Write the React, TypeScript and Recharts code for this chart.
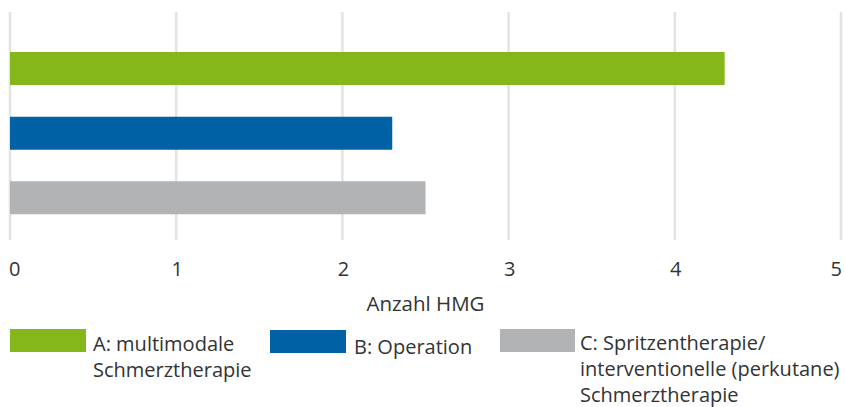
import React from "react";
import { BarChart, Bar, XAxis, YAxis, CartesianGrid, Cell } from "recharts";

const categories = ["A", "B", "C"];
const values = [4.3, 2.3, 2.5];
const colors = ["#85b71a", "#0062a4", "#b2b3b5"];
const legendLines = [
  ["A: multimodale", "Schmerztherapie"],
  ["B: Operation"],
  ["C: Spritzentherapie/", "interventionelle (perkutane)", "Schmerztherapie"],
];
const xTicks = [0, 1, 2, 3, 4, 5];
const axisTitle = "Anzahl HMG";

const data = categories.map((c, i) => ({ name: c, value: values[i] }));

const FONT = "'Open Sans', sans-serif";
const TEXT = "#333333";

const Tick = (props: any) => {
  const { x, y, payload } = props;
  const v = payload.value;
  const anchor = v === xTicks[0] ? "start" : v === xTicks[xTicks.length - 1] ? "end" : "middle";
  const dx = v === xTicks[0] ? -1 : 1;
  return (
    <text x={x + dx} y={y + 36} textAnchor={anchor} fontFamily={FONT} fontSize={20} fill={TEXT}>
      {v}
    </text>
  );
};

const AxisLabel = (props: any) => {
  const vb = props.viewBox || {};
  return (
    <text x={vb.x + vb.width / 2} y={vb.y + 71} textAnchor="middle" fontFamily={FONT} fontSize={20.5} fill={TEXT}>
      {axisTitle}
    </text>
  );
};

const legendPos = [
  { sx: 10, sy: 329, sw: 76, tx: 93, ty: 351 },
  { sx: 270, sy: 330, sw: 76, tx: 354, ty: 354 },
  { sx: 500, sy: 329, sw: 75, tx: 580, ty: 350 },
];

export default function App() {
  return (
    <div style={{ position: "absolute", left: 0, top: 0, width: 845, height: 407, background: "#fff" }}>
      <BarChart
        width={845}
        height={320}
        data={data}
        layout="vertical"
        margin={{ top: 12, right: 4, left: 10, bottom: 0 }}
        barSize={33}
      >
        <CartesianGrid horizontal={false} stroke="#e3e3e3" strokeWidth={2.5} />
        <XAxis
          type="number"
          domain={[0, 5]}
          ticks={xTicks}
          axisLine={false}
          tickLine={false}
          tickSize={0}
          tickMargin={0}
          height={80}
          tick={<Tick />}
          label={<AxisLabel />}
        />
        <YAxis type="category" dataKey="name" hide padding={{ top: 24, bottom: 10 }} />
        <Bar dataKey="value" isAnimationActive={false}>
          {data.map((d, i) => (
            <Cell key={d.name} fill={colors[i]} />
          ))}
        </Bar>
      </BarChart>
      <svg width={845} height={407} style={{ position: "absolute", left: 0, top: 0, pointerEvents: "none" }}>
        {legendLines.map((lines, i) => {
          const p = legendPos[i];
          return (
            <g key={i}>
              <rect x={p.sx} y={p.sy} width={p.sw} height={23} fill={colors[i]} />
              <text fontFamily={FONT} fontSize={20} fill={TEXT}>
                {lines.map((l, j) => (
                  <tspan key={j} x={p.tx} y={p.ty + j * 26}>
                    {l}
                  </tspan>
                ))}
              </text>
            </g>
          );
        })}
      </svg>
    </div>
  );
}
